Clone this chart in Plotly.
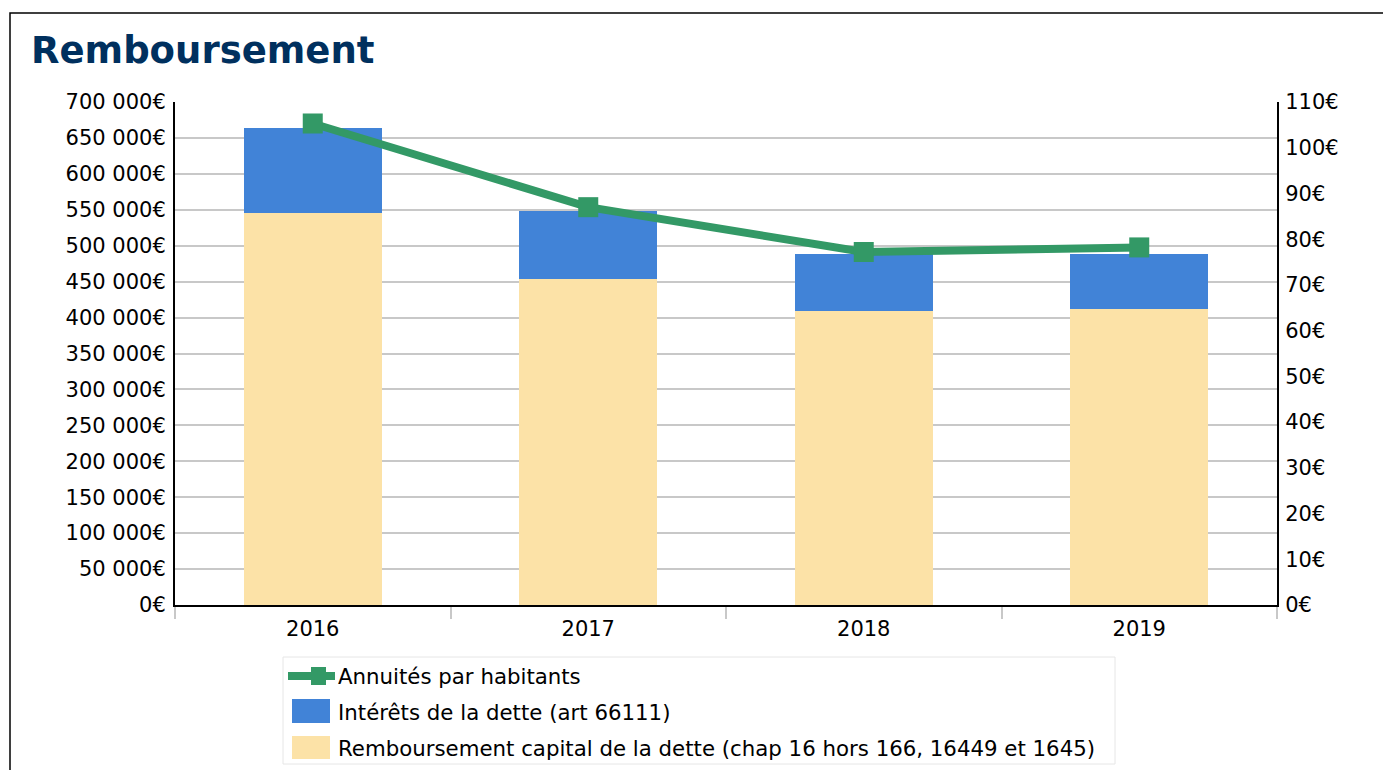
import plotly.graph_objects as go

years = ["2016", "2017", "2018", "2019"]
capital = [545500, 453700, 409800, 412600]
interets = [119000, 95300, 78700, 75900]
annuites = [105.3, 87.0, 77.2, 78.2]

left_ticks = list(range(0, 700001, 50000))
right_ticks = list(range(0, 111, 10))
left_text = [f"{v:,}".replace(",", " ") + "€" for v in left_ticks]
right_text = [f"{v}€" for v in right_ticks]

NAME_LINE = "Annuités par habitants"
NAME_INT = "Intérêts de la dette (art 66111)"
NAME_CAP = "Remboursement capital de la dette (chap 16 hors 166, 16449 et 1645)"

FONT = "DejaVu Sans"
GREEN = "#339966"
BLUE = "#4183d7"
SAND = "#fce2a7"
TICK_SIZE = 21
LEG_SIZE = 21.3

fig = go.Figure()
fig.add_trace(go.Bar(
    x=years, y=capital, name=NAME_CAP,
    marker=dict(color=SAND, line=dict(width=0)), width=0.5,
    hoverinfo="skip", showlegend=False))
fig.add_trace(go.Bar(
    x=years, y=interets, name=NAME_INT,
    marker=dict(color=BLUE, line=dict(width=0)), width=0.5,
    hoverinfo="skip", showlegend=False))
fig.add_trace(go.Scatter(
    x=years, y=annuites, name=NAME_LINE, yaxis="y2",
    mode="lines+markers", line=dict(color=GREEN, width=8),
    marker=dict(symbol="square", size=20, color=GREEN),
    hoverinfo="skip", showlegend=False))

W, H = 1383, 770
L, R, T, B = 175, 106, 102, 165
pw, ph = W - L - R, H - T - B

def px(x):
    return (x - L) / pw

def py(y):
    return (H - B - y) / ph

shapes = [
    # outer frame
    dict(type="rect", xref="paper", yref="paper",
         x0=px(10), x1=px(1400), y0=py(800), y1=py(13),
         line=dict(color="black", width=1.5), fillcolor="rgba(0,0,0,0)", layer="above"),
    # legend box
    dict(type="rect", xref="paper", yref="paper",
         x0=px(283), x1=px(1115), y0=py(764), y1=py(657),
         line=dict(color="#e6e6e6", width=1), fillcolor="white", layer="above"),
    # legend line symbol
    dict(type="line", xref="paper", yref="paper",
         x0=px(288), x1=px(335), y0=py(676), y1=py(676),
         line=dict(color=GREEN, width=8), layer="above"),
    dict(type="rect", xref="paper", yref="paper",
         x0=px(311), x1=px(326), y0=py(685), y1=py(667),
         line=dict(width=0), fillcolor=GREEN, layer="above"),
    # legend bar symbols
    dict(type="rect", xref="paper", yref="paper",
         x0=px(292), x1=px(330), y0=py(723), y1=py(699),
         line=dict(width=0), fillcolor=BLUE, layer="above"),
    dict(type="rect", xref="paper", yref="paper",
         x0=px(292), x1=px(330), y0=py(759), y1=py(736),
         line=dict(width=0), fillcolor=SAND, layer="above"),
]

annotations = [
    dict(text="<b>Remboursement</b>", xref="paper", yref="paper",
         x=px(29), y=py(51), xanchor="left", yanchor="middle", showarrow=False,
         font=dict(family=FONT, size=37, color="#00305e")),
]
for name, yy in [(NAME_LINE, 676), (NAME_INT, 712), (NAME_CAP, 748)]:
    annotations.append(dict(
        text=name, xref="paper", yref="paper", x=px(336), y=py(yy),
        xanchor="left", yanchor="middle", showarrow=False,
        font=dict(family=FONT, size=LEG_SIZE, color="black")))

fig.update_layout(
    width=W, height=H,
    margin=dict(l=L, r=R, t=T, b=B, pad=0),
    paper_bgcolor="white", plot_bgcolor="white",
    font=dict(family=FONT, size=TICK_SIZE, color="black"),
    barmode="stack", bargap=0.5,
    showlegend=False,
    xaxis=dict(
        type="category", showline=True, linecolor="black", linewidth=2,
        ticks="outside", tickson="boundaries", ticklen=12, tickcolor="#c8c8c8",
        tickwidth=2, showgrid=False, fixedrange=True, ticklabelstandoff=4,
        tickfont=dict(family=FONT, size=TICK_SIZE),
    ),
    yaxis=dict(
        range=[0, 700000], tickmode="array", tickvals=left_ticks, ticktext=left_text,
        showgrid=True, gridcolor="#c8c8c8", gridwidth=2,
        showline=True, linecolor="black", linewidth=2, zeroline=False,
        ticks="", ticklabelstandoff=3, fixedrange=True,
        tickfont=dict(family=FONT, size=TICK_SIZE),
    ),
    yaxis2=dict(
        range=[0, 110], tickmode="array", tickvals=right_ticks, ticktext=right_text,
        overlaying="y", side="right", showgrid=False, zeroline=False,
        showline=True, linecolor="black", linewidth=2,
        ticks="", ticklabelstandoff=2, fixedrange=True,
        tickfont=dict(family=FONT, size=TICK_SIZE),
    ),
    shapes=shapes,
    annotations=annotations,
)

fig.write_html("out.html", config={"displayModeBar": False, "staticPlot": True})
with open("out.html", encoding="utf-8") as f:
    html = f.read()
html = html.replace("<body>", '<body style="margin:0;padding:0;">', 1)
with open("out.html", "w", encoding="utf-8") as f:
    f.write(html)
